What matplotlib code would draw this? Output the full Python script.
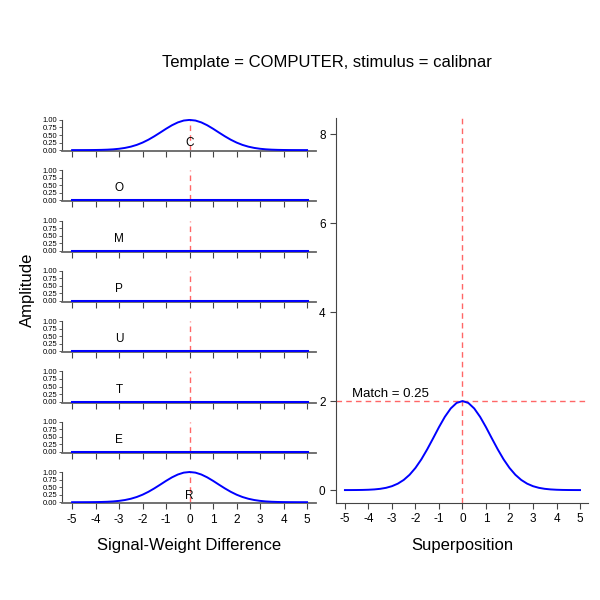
import matplotlib
matplotlib.use("Agg")
import matplotlib.pyplot as plt

plt.rcParams['font.family'] = ['Liberation Sans', 'DejaVu Sans']

letters = ["C", "O", "M", "P", "U", "T", "E", "R"]
matched = [True, False, False, False, False, False, False, True]

x = [-5.0, -4.75, -4.5, -4.25, -4.0, -3.75, -3.5, -3.25, -3.0, -2.75, -2.5,
     -2.25, -2.0, -1.75, -1.5, -1.25, -1.0, -0.75, -0.5, -0.25, 0.0,
     0.25, 0.5, 0.75, 1.0, 1.25, 1.5, 1.75, 2.0, 2.25, 2.5,
     2.75, 3.0, 3.25, 3.5, 3.75, 4.0, 4.25, 4.5, 4.75, 5.0]
bump = [0.0002, 0.0004, 0.0009, 0.0019, 0.0039, 0.0076, 0.0142, 0.0255, 0.0439, 0.0724, 0.114,
        0.172, 0.249, 0.345, 0.458, 0.581, 0.707, 0.823, 0.917, 0.979, 1.0,
        0.979, 0.917, 0.823, 0.707, 0.581, 0.458, 0.345, 0.249, 0.172, 0.114,
        0.0724, 0.0439, 0.0255, 0.0142, 0.0076, 0.0039, 0.0019, 0.0009, 0.0004, 0.0002]
flat = [0.0] * len(x)
superpos = [0.0004, 0.0008, 0.0018, 0.0038, 0.0078, 0.0152, 0.0284, 0.051, 0.0878, 0.1448, 0.228,
            0.344, 0.498, 0.69, 0.916, 1.162, 1.414, 1.646, 1.834, 1.958, 2.0,
            1.958, 1.834, 1.646, 1.414, 1.162, 0.916, 0.69, 0.498, 0.344, 0.228,
            0.1448, 0.0878, 0.051, 0.0284, 0.0152, 0.0078, 0.0038, 0.0018, 0.0008, 0.0004]
match_value = 0.25
xticks = [-5, -4, -3, -2, -1, 0, 1, 2, 3, 4, 5]

W = H = 600.0
fig = plt.figure(figsize=(6, 6), dpi=100)

spine_col = "#444444"

def px_axes(left, top, right, bottom):
    return fig.add_axes([left / W, 1 - bottom / H, (right - left) / W, (bottom - top) / H])

for i, letter in enumerate(letters):
    bot = 151 + 50.3 * i
    ax = px_axes(62, bot - 32, 316, bot)
    ax.set_xlim(-5.43, 5.38)
    ax.set_ylim(-0.03, 1.03)
    ax.plot(x, bump if matched[i] else flat, color="blue", lw=1.4 if matched[i] else 2.2, zorder=3)
    ax.plot([0, 0], [0, 1], color="#ff6666", ls=(0, (4, 3)), lw=1.0, zorder=2)
    if matched[i]:
        ax.text(0, 0.22, letter, ha="center", va="center", fontsize=8.5)
    else:
        ax.text(-3, 0.4, letter, ha="center", va="center", fontsize=8.5)
    for s in ["top", "right"]:
        ax.spines[s].set_visible(False)
    ax.spines["left"].set_bounds(0, 1)
    ax.spines["left"].set_color(spine_col)
    ax.spines["bottom"].set_color("#666666")
    ax.spines["bottom"].set_linewidth(1.3)
    ax.set_yticks([0, 0.25, 0.5, 0.75, 1.0])
    ax.set_yticklabels(["0.00", "0.25", "0.50", "0.75", "1.00"], fontsize=5.5)
    ax.set_xticks(xticks)
    ax.tick_params(axis="y", length=2.5, pad=1, width=0.6, colors=spine_col, labelcolor="black")
    ax.tick_params(axis="x", length=4, width=0.8, colors=spine_col, labelcolor="black", labelsize=8.5)
    if i < len(letters) - 1:
        ax.set_xticklabels([])
    else:
        ax.set_xticklabels([str(t) for t in xticks])
        ax.set_xlabel("Signal-Weight Difference", fontsize=12, labelpad=9)

fig.text(27 / W, 1 - 290 / H, "Amplitude", rotation=90, ha="center", va="center", fontsize=12)

ax2 = px_axes(336, 118, 588, 503)
ax2.set_xlim(-5.38, 5.34)
ax2.set_ylim(-0.29, 8.36)
ax2.plot(x, superpos, color="blue", lw=1.4, zorder=3)
ax2.axvline(0, color="#ff6666", ls=(0, (4, 3)), lw=1.0)
ax2.axhline(max(superpos), color="#ff6666", ls=(0, (4, 3)), lw=1.0)
ax2.text(-4.7, 2.03, f"Match = {match_value}", ha="left", va="bottom", fontsize=9.5)
for s in ["top", "right"]:
    ax2.spines[s].set_visible(False)
ax2.spines["left"].set_color(spine_col)
ax2.spines["bottom"].set_color(spine_col)
ax2.set_xticks(xticks)
ax2.set_xticklabels([str(t) for t in xticks])
ax2.set_yticks([0, 2, 4, 6, 8])
ax2.tick_params(axis="both", length=4, width=0.8, colors=spine_col, labelcolor="black", labelsize=8.5)
ax2.set_xlabel("Superposition", fontsize=12, labelpad=9)

fig.text(327 / W, 1 - 62 / H, "Template = COMPUTER, stimulus = calibnar", ha="center", va="center", fontsize=12)

fig.savefig("out.png", dpi=100)
